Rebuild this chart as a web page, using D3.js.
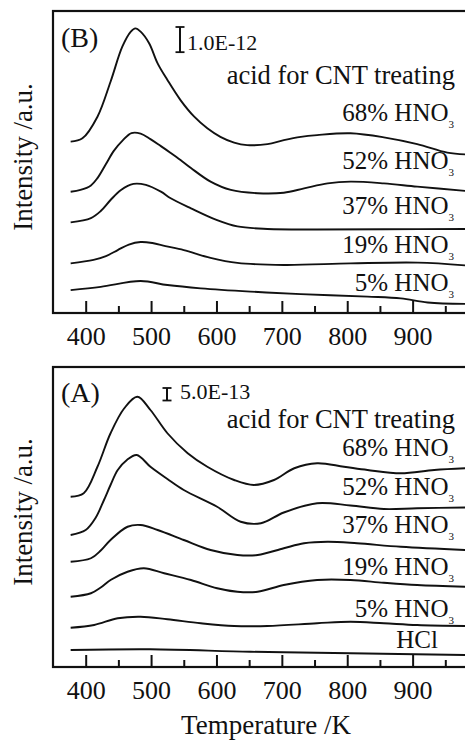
<!DOCTYPE html>
<html><head><meta charset="utf-8">
<script src="https://cdn.jsdelivr.net/npm/d3@7"></script>
<style>
body{margin:0;background:#fff}
svg{display:block}
text{font-family:"Liberation Serif","Times New Roman",serif;fill:#111}
</style>
</head><body>
<svg id="c" width="465" height="740"></svg>
<script>
// ---------- data (Temperature K, intensity a.u. in 1E-13 units, curves stacked as in figure) ----------
const majorTicks = [400, 500, 600, 700, 800, 900];
const minorTicks = [450, 550, 650, 750, 850, 950];
const xLabel = "Temperature /K";
const yLabel = "Intensity /a.u.";

// Panel B
const B_68 = [[377,68.1],[395,69.4],[418,78.0],[438,91.9],[456,105.8],[469,111.8],[476,113.1],[484,111.8],[497,107.2],[510,99.2],[525,92.6],[545,84.6],[566,78.0],[586,73.4],[606,70.0],[627,67.7],[647,66.7],[678,67.1],[703,68.7],[729,70.0],[754,70.7],[805,71.4],[856,69.8],[907,67.1],[953,63.7],[982,63.0]];
const B_52 = [[377,48.2],[392,48.9],[408,50.7],[418,53.6],[431,59.2],[443,64.4],[457,68.7],[470,71.5],[484,71.3],[499,69.1],[515,66.3],[530,63.6],[545,60.8],[561,57.6],[591,52.2],[622,48.9],[663,47.6],[703,47.8],[734,49.5],[770,51.5],[805,52.2],[856,51.5],[907,50.2],[982,48.5]];
const B_37 = [[377,36.0],[408,37.7],[423,40.5],[438,44.9],[454,48.9],[473,51.3],[492,50.9],[515,48.2],[530,45.6],[561,41.6],[601,36.9],[632,34.4],[678,33.4],[754,33.2],[856,33.3],[982,33.4]];
const B_19 = [[377,19.7],[412,21.1],[431,22.6],[449,25.0],[466,27.2],[484,28.2],[502,27.8],[522,26.6],[550,25.0],[591,21.9],[632,19.9],[703,19.1],[805,19.7],[908,20.0],[982,18.9]];
const B_5  = [[377,9.1],[423,10.4],[484,12.7],[525,11.1],[576,9.8],[652,8.5],[729,7.5],[831,6.5],[882,5.8],[923,4.2],[982,3.6]];

// Panel A
const A_68 = [[377,68.1],[397,69.5],[418,80.1],[438,93.5],[459,103.5],[479,108.1],[499,102.8],[525,93.5],[556,85.5],[586,80.1],[627,74.8],[657,72.8],[688,74.8],[719,79.5],[754,81.5],[795,80.1],[831,78.8],[882,77.5],[933,78.8],[982,79.5]];
const A_52 = [[377,52.8],[400,54.8],[415,59.6],[428,66.8],[438,72.8],[449,78.8],[463,82.8],[478,84.8],[499,80.1],[525,75.2],[550,70.8],[601,64.1],[637,58.1],[668,57.5],[703,61.8],[754,65.5],[805,64.6],[856,63.2],[907,63.5],[982,63.8]];
const A_37 = [[377,42.1],[408,43.5],[423,46.6],[438,50.8],[464,56.1],[484,56.8],[510,54.8],[550,50.8],[591,46.8],[632,44.8],[663,44.8],[703,47.5],[734,49.5],[770,50.1],[815,49.5],[882,48.1],[982,46.8]];
const A_19 = [[377,28.1],[408,29.5],[423,31.8],[438,34.8],[464,38.1],[489,39.5],[520,37.5],[561,34.8],[601,31.5],[632,30.1],[663,30.1],[703,32.8],[754,34.8],[805,34.8],[856,33.7],[907,32.8],[982,32.1]];
const A_5  = [[377,15.7],[413,16.8],[449,19.5],[484,20.1],[525,19.1],[576,17.5],[627,16.4],[678,16.4],[754,17.5],[805,18.1],[856,17.5],[907,16.8],[982,16.4]];
const A_HCl = [[377,6.8],[499,7.1],[652,6.1],[805,5.5],[982,4.8]];

const seriesB = [B_68, B_52, B_37, B_19, B_5];
const seriesA = [A_68, A_52, A_37, A_19, A_5, A_HCl];
const namesB = ["68% HNO", "52% HNO", "37% HNO", "19% HNO", "5% HNO"];
const namesA = ["68% HNO", "52% HNO", "37% HNO", "19% HNO", "5% HNO", "HCl"];
const subsB = ["3","3","3","3","3"];
const subsA = ["3","3","3","3","3",""];
const legendTitle = "acid for CNT treating";
const scaleB = "1.0E-12", scaleA = "5.0E-13";
const scaleBarB = 10, scaleBarA = 5; // in units of 1E-13

// ---------- drawing ----------
const svg = d3.select("#c");
const x = d3.scaleLinear().domain([350, 1000]).range([53, 478]);

function panel(o) {
  const {top, bottom, series, names, subs, labelYs, tag, tagY, sbX, sbTop, sbUnits, sbText, sbTextX, sbTextY, legendY} = o;
  const y = d3.scaleLinear().domain([0, 120]).range([bottom, top]);
  const g = svg.append("g");
  const line = d3.line().x(d => x(d[0])).y(d => y(d[1])).curve(d3.curveCatmullRom.alpha(0.5));
  series.forEach(s => {
    g.append("path").attr("d", line(s)).attr("fill", "none")
      .attr("stroke", "#111").attr("stroke-width", 1.9).attr("stroke-linejoin", "round");
  });
  // frame
  g.append("rect").attr("x", x(350)).attr("y", top).attr("width", x(1000) - x(350)).attr("height", bottom - top)
    .attr("fill", "none").attr("stroke", "#111").attr("stroke-width", 2.2);
  // ticks (inward)
  const ax = d3.axisBottom(x).tickValues(majorTicks).tickSize(-12).tickPadding(14).tickFormat(d3.format("d"));
  const axG = g.append("g").attr("transform", `translate(0,${bottom})`).call(ax);
  axG.select(".domain").remove();
  axG.selectAll(".tick line").attr("stroke", "#111").attr("stroke-width", 2);
  axG.selectAll(".tick text").attr("font-size", 26).attr("fill", "#111");
  const axm = d3.axisBottom(x).tickValues(minorTicks).tickSize(-7).tickFormat("");
  const amG = g.append("g").attr("transform", `translate(0,${bottom})`).call(axm);
  amG.select(".domain").remove();
  amG.selectAll(".tick line").attr("stroke", "#111").attr("stroke-width", 2);
  // y label
  g.append("text").attr("transform", `translate(32,${(top + bottom) / 2 - 5}) rotate(-90)`)
    .attr("text-anchor", "middle").attr("font-size", 27).text(yLabel);
  // tag
  g.append("text").attr("x", 61).attr("y", tagY).attr("font-size", 28).text(tag);
  // scale bar
  const y1 = sbTop, y2 = sbTop + (y(0) - y(sbUnits));
  g.append("line").attr("x1", sbX).attr("x2", sbX).attr("y1", y1).attr("y2", y2).attr("stroke", "#111").attr("stroke-width", 2);
  [y1, y2].forEach(yy => g.append("line").attr("x1", sbX - 4.5).attr("x2", sbX + 4.5).attr("y1", yy).attr("y2", yy).attr("stroke", "#111").attr("stroke-width", 1.8));
  g.append("text").attr("x", sbTextX).attr("y", sbTextY).attr("font-size", 22).text(sbText);
  // legend title
  g.append("text").attr("x", 455).attr("y", legendY).attr("text-anchor", "end").attr("font-size", 26.5).text(legendTitle);
  // series labels
  names.forEach((n, i) => {
    const t = g.append("text").attr("x", subs[i] ? 454 : 438).attr("y", labelYs[i]).attr("text-anchor", "end").attr("font-size", 25);
    t.append("tspan").text(n);
    if (subs[i]) t.append("tspan").attr("font-size", 11).attr("dy", 7).text(subs[i]);
  });
}

panel({top: 11, bottom: 313, series: seriesB, names: namesB, subs: subsB, labelYs: [121, 169, 214, 253, 291],
  tag: "(B)", tagY: 47, sbX: 180, sbTop: 27, sbUnits: scaleBarB, sbText: scaleB, sbTextX: 187, sbTextY: 50, legendY: 84});
panel({top: 367, bottom: 667, series: seriesA, names: namesA, subs: subsA, labelYs: [456, 495, 533, 575, 617, 648],
  tag: "(A)", tagY: 402, sbX: 167, sbTop: 388, sbUnits: scaleBarA, sbText: scaleA, sbTextX: 180, sbTextY: 399, legendY: 428});

svg.append("text").attr("x", 266).attr("y", 734).attr("text-anchor", "middle").attr("font-size", 27).text(xLabel);
</script>
</body></html>
